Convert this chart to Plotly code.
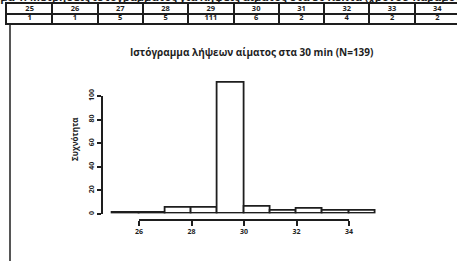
import plotly.graph_objects as go

W, H = 457, 261

bins = [25, 26, 27, 28, 29, 30, 31, 32, 33, 34]
counts = [1, 1, 5, 5, 111, 6, 2, 4, 2, 2]
x_ticks = [26, 28, 30, 32, 34]
y_ticks = [0, 20, 40, 60, 80, 100]
title = "Ιστόγραμμα λήψεων αίματος στα 30 min (N=139)"
ylabel = "Συχνότητα"
caption = "Σχήμα 1: Μετρήσεις ιστογράμματος για λήψεις αίματος στα 30 λεπτά (χρόνου παραμονής)"


def px(x):
    return x / W


def py(y):
    return 1 - y / H


INK = "#1e1e1e"
FONT = "Open Sans"

fig = go.Figure()

# ---- table of counts (own axes: columns = bins, rows = header / count)
col_w = 45.3
tab_left = 7
n_cols_visible = (W - tab_left) / col_w
cols = list(range(len(bins)))
fig.add_trace(go.Scatter(
    x=[c + 0.5 for c in cols], y=[1.5] * len(bins),
    text=[f"<b>{b}</b>" for b in bins], mode="text",
    textfont=dict(family=FONT, size=7.5, color=INK),
    xaxis="x3", yaxis="y3", showlegend=False, hoverinfo="skip",
))
fig.add_trace(go.Scatter(
    x=[c + 0.5 for c in cols], y=[0.5] * len(counts),
    text=[f"<b>{c}</b>" for c in counts], mode="text",
    textfont=dict(family=FONT, size=7.5, color=INK),
    xaxis="x3", yaxis="y3", showlegend=False, hoverinfo="skip",
))

# ---- histogram bars (bin [b, b+1])
fig.add_trace(go.Bar(
    x=[b + 0.5 for b in bins], y=counts, width=1,
    marker=dict(color="white", line=dict(color=INK, width=1.8)),
    xaxis="x", yaxis="y", showlegend=False, hoverinfo="skip",
))

# ---- invisible trace carrying the R-style offset axes
fig.add_trace(go.Scatter(
    x=[x_ticks[0], x_ticks[-1]], y=[y_ticks[0], y_ticks[-1]],
    mode="markers", marker=dict(opacity=0), xaxis="x2", yaxis="y2",
    showlegend=False, hoverinfo="skip",
))

scale_x = 26.25  # px per unit
x0px = 139       # pixel of x = 26
scale_y = 1.18   # px per count
y0px = 213.5     # pixel of count 0

axis_common = dict(showgrid=False, zeroline=False, fixedrange=True)

fig.update_layout(
    width=W, height=H,
    margin=dict(l=0, r=0, t=0, b=0, autoexpand=False),
    paper_bgcolor="white", plot_bgcolor="rgba(0,0,0,0)",
    showlegend=False,
    bargap=0,
    xaxis=dict(domain=[px(x0px - 2 * scale_x), px(x0px + 10 * scale_x)],
               range=[24, 36], visible=False, fixedrange=True),
    yaxis=dict(domain=[py(y0px), py(y0px - 115 * scale_y)],
               range=[0, 115], visible=False, fixedrange=True),
    xaxis2=dict(domain=[px(x0px), px(x0px + 8 * scale_x)], range=[26, 34],
                anchor="free", position=py(220),
                showline=True, linecolor=INK, linewidth=1.5,
                ticks="outside", ticklen=5, tickwidth=1.5, tickcolor=INK,
                tickvals=x_ticks, ticktext=[f"<b>{t}</b>" for t in x_ticks],
                tickfont=dict(family=FONT, size=7, color=INK),
                **axis_common),
    yaxis2=dict(domain=[py(214), py(214 - 100 * scale_y)], range=[0, 100],
                anchor="free", position=px(102),
                showline=True, linecolor=INK, linewidth=1.5,
                ticks="outside", ticklen=4, tickwidth=1.5, tickcolor=INK,
                tickvals=y_ticks, ticktext=[f"<b>{t}</b>" for t in y_ticks],
                tickangle=-90,
                tickfont=dict(family=FONT, size=7, color=INK),
                **axis_common),
    xaxis3=dict(domain=[px(tab_left), 1.0], range=[0, n_cols_visible],
                anchor="y3", showline=True, mirror=True,
                linecolor=INK, linewidth=1.5,
                showgrid=True, gridcolor=INK, gridwidth=1.5,
                tickvals=list(range(1, len(bins))), showticklabels=False,
                ticks="", zeroline=False, fixedrange=True),
    yaxis3=dict(domain=[py(23), py(4)], range=[0, 2],
                anchor="x3", showline=True, mirror=False,
                linecolor=INK, linewidth=1.5,
                showgrid=True, gridcolor=INK, gridwidth=1.5,
                tickvals=[1], showticklabels=False,
                ticks="", zeroline=False, fixedrange=True),
    shapes=[dict(type="line", xref="paper", yref="paper",
                 x0=px(10), x1=px(10), y0=py(25), y1=0,
                 line=dict(color=INK, width=1.5))],
    annotations=[
        dict(text=f"<b>{title}</b>", xref="paper", yref="paper",
             x=px(251), y=py(52), xanchor="center", yanchor="middle",
             showarrow=False, font=dict(family=FONT, size=10, color=INK)),
        dict(text=f"<b>{ylabel}</b>", xref="paper", yref="paper",
             x=px(74), y=py(140), xanchor="center", yanchor="middle",
             textangle=-90, showarrow=False,
             font=dict(family=FONT, size=8, color=INK)),
        dict(text=f"<b>{caption}</b>", xref="paper", yref="paper",
             x=px(-22), y=py(-3.5), xanchor="left", yanchor="middle",
             showarrow=False, font=dict(family=FONT, size=11, color=INK)),
    ],
)

fig.write_html(
    "out.html",
    config={"displayModeBar": False},
    post_script="document.body.style.margin='0px';document.body.style.overflow='hidden';",
)
